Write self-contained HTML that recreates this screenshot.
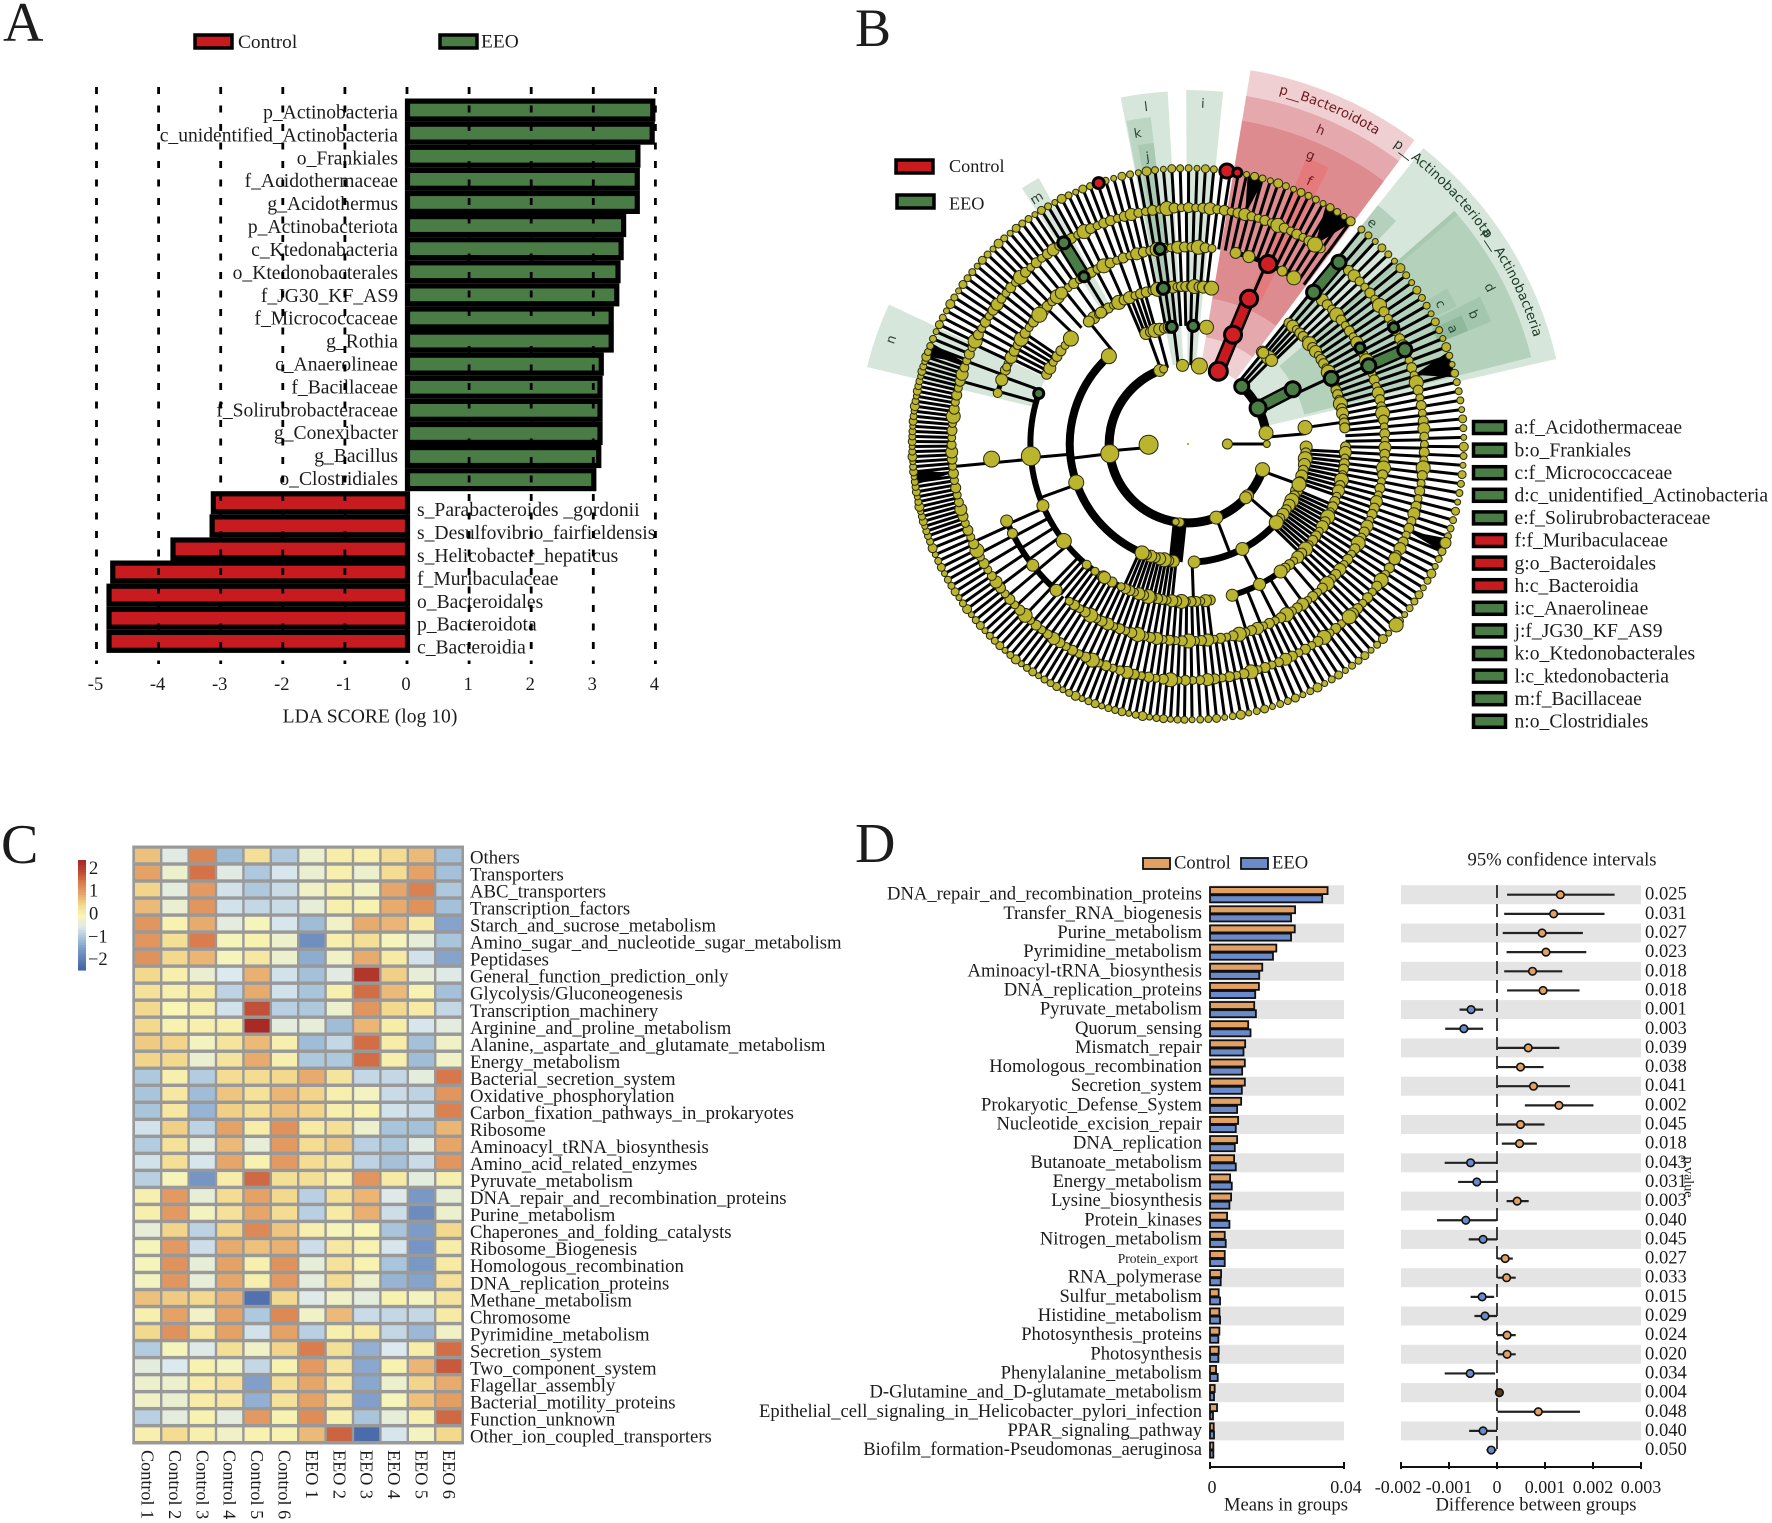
<!DOCTYPE html>
<html lang="en">
<head>
<meta charset="utf-8">
<title>Microbiome composite figure</title>
<style>
html,body{margin:0;padding:0;background:#fff;}
svg{display:block;}
text{font-family:"Liberation Serif",serif;fill:#1c1c1c;}
</style>
</head>
<body>
<svg id="figure" xmlns="http://www.w3.org/2000/svg" width="1772" height="1523" viewBox="0 0 1772 1523">
  <rect width="1772" height="1523" fill="#fff"/>
  <text x="3" y="41" font-size="56">A</text>
  <text x="855" y="46" font-size="54">B</text>
  <text x="1" y="863" font-size="56">C</text>
  <text x="855" y="862" font-size="56">D</text>

  <g id="panelA">
    <g>
      <rect x="195" y="35" width="37" height="13" fill="#c71b1f" stroke="#000" stroke-width="3.5"/>
      <text x="238" y="42.5" font-size="19.4" dominant-baseline="central">Control</text>
      <rect x="440" y="35" width="37" height="13" fill="#4a7c45" stroke="#000" stroke-width="3.5"/>
      <text x="481" y="42" font-size="19.4" dominant-baseline="central">EEO</text>
    </g>
    <text x="370" y="717" font-size="19.6" text-anchor="middle" dominant-baseline="central">LDA SCORE (log 10)</text>
  </g>

  <g id="panelB">
    <g>
      <rect x="896" y="160" width="37" height="13" fill="#c71b1f" stroke="#000" stroke-width="3.5"/>
      <text x="949" y="166" font-size="18.2" dominant-baseline="central">Control</text>
      <rect x="897" y="195" width="37" height="13" fill="#4a7c45" stroke="#000" stroke-width="3.5"/>
      <text x="949" y="203.5" font-size="18.2" dominant-baseline="central">EEO</text>
    </g>
  </g>

  <g id="panelC"></g>
  <g id="panelD">
    <g>
      <rect x="1143" y="858" width="27" height="11" fill="#e2a063" stroke="#111" stroke-width="1.8"/>
      <text x="1174" y="863" font-size="18.6" dominant-baseline="central">Control</text>
      <rect x="1241" y="858" width="27" height="11" fill="#6b8ac9" stroke="#111" stroke-width="1.8"/>
      <text x="1272" y="863" font-size="18.6" dominant-baseline="central">EEO</text>
    </g>
    <text x="1562" y="860" font-size="18.6" text-anchor="middle" dominant-baseline="central">95% confidence intervals</text>
    <text x="1286" y="1505" font-size="18.6" text-anchor="middle" dominant-baseline="central">Means in groups</text>
    <text x="1536" y="1505" font-size="18.6" text-anchor="middle" dominant-baseline="central">Difference between groups</text>
    <text transform="translate(1688,1177) rotate(90)" font-size="14" text-anchor="middle" dominant-baseline="central">p value</text>
  </g>
</svg>

<script>
/* ---------- Panel A data ---------- */
const ldaCategories = ["p_Actinobacteria","c_unidentified_Actinobacteria","o_Frankiales","f_Acidothermaceae","g_Acidothermus","p_Actinobacteriota","c_Ktedonabacteria","o_Ktedonobacterales","f_JG30_KF_AS9","f_Micrococcaceae","g_Rothia","c_Anaerolineae","f_Bacillaceae","f_Solirubrobacteraceae","g_Conexibacter","g_Bacillus","o_Clostridiales","s_Parabacteroides _gordonii","s_Desulfovibrio_fairfieldensis","s_Helicobacter_hepaticus","f_Muribaculaceae","o_Bacteroidales","p_Bacteroidota","c_Bacteroidia"];
const ldaValues = [4.0,3.99,3.76,3.75,3.75,3.53,3.49,3.44,3.42,3.33,3.33,3.17,3.15,3.15,3.15,3.13,3.05,-3.16,-3.18,-3.81,-4.78,-4.84,-4.84,-4.84];
const ldaTicks = [-5,-4,-3,-2,-1,0,1,2,3,4];

/* ---------- Panel B data (angles clockwise from north, degrees) ---------- */
const cladeWedges = [
  ["clade-bacteroidota-outer",353,379,9.5,36.7,"#f0cfd2"],
  ["clade-h-band",328,353,9.5,36.7,"#e5a9ad"],
  ["clade-g-band",147,328,9.5,36.7,"#de8b8f"],
  ["clade-h-inner",108,147,9.5,36.7,"#e5a9ad"],
  ["clade-bacteroidota-inner",80,108,9.5,36.7,"#f0cfd2"],
  ["clade-f",160,310,22.5,27,"#e57a7c"],
  ["clade-actinobacteriota",80,378,38.5,77,"#d6e6db"],
  ["clade-actinobacteria-class",120,354,49.5,75.8,"#b4d1bb"],
  ["clade-actinobacteria-edge",150,354,48.8,49.6,"#a6c9b0"],
  ["clade-e",150,305,38.5,43,"#b5d0bc"],
  ["clade-b",270,327,63.2,68,"#a3c6ae"],
  ["clade-c",270,302,59,62.8,"#a7c8b1"],
  ["clade-a",270,302,64.8,68,"#8fb99c"],
  ["clade-i",80,354,-0.3,5.7,"#d6e6db"],
  ["clade-l",80,353,-11,-3.3,"#d6e6db"],
  ["clade-k",118,329,-10.8,-6.5,"#bdd6c4"],
  ["clade-j",157,303,-9.5,-6.5,"#a9c9b2"],
  ["clade-m",160,305,-33,-29.3,"#d6e6db"],
  ["clade-n",157,330,-76.5,-65,"#d6e6db"]
];
const cladeLetters = [["a",288,66.5],["b",313,65.6],["c",288,61],["d",339,62.6],["e",287,39.8],["f",289,24.8],["g",313,23],["h",340,22.9],["i",340,2.5],["j",289,-8],["k",314,-9.2],["l",339,-7.1],["m",288,-31.6],["n",314,-70.6]];
const cladeArcLabels = [["p__Bacteroidota",14.5,31.5,"#6b1a20"],["p__Actinobacteriota",34.5,54,"#1d3a26"],["p__Actinobacteria",54.2,72.5,"#1d3a26"]];
/* level, start angle, end angle, branch count */
const branchSectors = [
  [6,38,78,21],[6,78,107,15],[6,107,180,43],[6,180,250,48],[6,250,290,38],[6,290,340,31],[6,340,368,16],[6,368,397,17],
  [5,38,80,22],[5,80,110,15],[5,110,180,39],[5,180,190,6],[5,190,222,18],[5,222,247,8],[5,263,266,1],[5,284,287,1],[5,289,292,1],[5,294,312,9],[5,312,340,12],[5,340,368,15],[5,368,397,15],
  [4,38,80,20],[4,80,110,15],[4,110,137,14],[4,137,165,6],[4,172,225,28],[4,228,248,5],[4,263,266,1],[4,285,286,1],[4,289,291,1],[4,295,305,6],[4,312,345,9],[4,345,368,10],[4,383,384,1],
  [3,38,47,5],[3,64,66,1],[3,81,83,1],[3,92,110,10],[3,112,135,14],[3,152,154,1],[3,177,179,1],[3,185,205,12],[3,249,251,1],[3,264,266,1],[3,319,323,1],[3,336,345,5],[3,348,365,7],
  [2,38,46,3],[2,84,86,1],[2,109,111,1],[2,130,132,1],[2,158,160,1],[2,184,186,1],[2,262,264,1],[2,339,341,1],[2,344,346,1],[2,352,354,1],[2,361,363,1],
  [1,89,91,1],[1,264,266,1]
];
/* level, start angle, end angle, node count: chains of taxon nodes along a ring */
const nodeChains = [
  [3,90,110,7],[3,112,133,8],[3,186,204,8],[3,38,46,4],[3,338,352,6],
  [4,39,85,26],[4,90,143,26],[4,171,206,20],[4,207,218,3],[4,295,310,6],[4,320,350,14],[4,352,368,10],
  [5,38,110,36],[5,110,218,58],[5,291,352,30],[5,352,368,8],
  [6,38,110,38],[6,110,262,85],[6,262,340,45],[6,340,368,16],[6,368,395,16]
];
const leafSizes7 = [3.5,3.5,3,4,3.5,3,4.5,3.5,3,4];
const leafSizes6 = [5,4,5,6,4.5,4,5,4,7,5,4];
const leafSizes5 = [5,4,6,5,4.5,7,5,4];
const leafSizes4 = [5,6,4,5,5,4,7];
const leafSizes3 = [6,5,7,6,5];
/* level, from angle, to angle, width */
const thickArcs = [[2,43,82,9],[2,109,339,9],[3,133,177,7],[3,192,318,8],[4,185,290,6],[4,300,312,5],[4,144,164,6],[5,221,247,6],[5,285,291,5],[5,14,32,5]];
/* level (inner), inner-end angle, from-angle, to-angle */
const branchFans = [[6,32.5,30,36.5],[6,73,70.5,76],[6,14,12.5,16],[6,290,288.5,291.5],[6,263,261.5,264.5],[6,111.6,110,113]];
/* level, angle, fill */
const thickBranches = [[2,22.5,"#c71b1f"],[3,22.6,"#c71b1f"],[2,62.6,"#4a7c45"],[5,66.5,"#4a7c45"],[5,39.7,"#4a7c45"],[5,328.2,"#4a7c45"],[2,186,"#000"]];
/* level, angle, radius */
const redNodes = [[2,22.6,9],[3,22.4,8.5],[4,22.8,8.5],[5,24,8.5],[7,8.1,7],[7,10.3,4.5],[7,341.1,5.5]];
const greenNodes = [[2,43,7],[2,62.8,8],[3,62.4,7.5],[4,65.4,7],[5,66.6,7],[6,66.5,7],[5,60.8,5],[6,60.5,5],[5,39.6,7],[6,39.7,7],[3,352.1,5.5],[3,2.5,5.5],[4,351,6],[5,351.8,5.5],[5,328.1,5],[6,328.3,6],[4,288.7,5]];
/* level, angle, radius */
const yellowHubNodes = [[1,269,9.5],[1,90,5],[2,263,9],[2,82,7],[2,90,3.5],[2,109,7],[2,131,6],[2,133,6],[2,159,6.5],[2,186,4.5],[2,189,3.5],[2,339,6],[2,342,4],[2,356,6],[2,8.3,8],[3,82,7],[3,110,7],[3,152.6,6.5],[3,177,6],[3,251,7.5],[3,318,7.5],[3,39.5,5.5],[3,9,7],[4,265.6,9.5],[4,247,6],[4,232,7.5],[4,220,4.5],[4,212,6],[4,163.7,6],[4,153,6],[4,144,6.5],[4,312,7.5],[4,321,5.5],[4,326.5,5.5],[4,8.6,7],[5,265.6,8],[5,247,6],[5,243,5],[5,232,6],[5,222,6],[5,285,4.5],[5,289,6],[5,293,4],[5,311,7.5],[5,320,6],[5,32.5,7],[5,28.6,5],[5,14,5.5],[5,18,6],[6,32.5,7.5],[6,137,7],[6,119,6],[7,131,7],[7,111,5.5]];

const legendEntries = [["a:f_Acidothermaceae","#4a7c45"],["b:o_Frankiales","#4a7c45"],["c:f_Micrococcaceae","#4a7c45"],["d:c_unidentified_Actinobacteria","#4a7c45"],["e:f_Solirubrobacteraceae","#4a7c45"],["f:f_Muribaculaceae","#c71b1f"],["g:o_Bacteroidales","#c71b1f"],["h:c_Bacteroidia","#c71b1f"],["i:c_Anaerolineae","#4a7c45"],["j:f_JG30_KF_AS9","#4a7c45"],["k:o_Ktedonobacterales","#4a7c45"],["l:c_ktedonobacteria","#4a7c45"],["m:f_Bacillaceae","#4a7c45"],["n:o_Clostridiales","#4a7c45"]];

/* ---------- Panel C data ---------- */
const heatSamples = ["Control 1","Control 2","Control 3","Control 4","Control 5","Control 6","EEO 1","EEO 2","EEO 3","EEO 4","EEO 5","EEO 6"];
const heatRows = ["Others","Transporters","ABC_transporters","Transcription_factors","Starch_and_sucrose_metabolism","Amino_sugar_and_nucleotide_sugar_metabolism","Peptidases","General_function_prediction_only","Glycolysis/Gluconeogenesis","Transcription_machinery","Arginine_and_proline_metabolism","Alanine,_aspartate_and_glutamate_metabolism","Energy_metabolism","Bacterial_secretion_system","Oxidative_phosphorylation","Carbon_fixation_pathways_in_prokaryotes","Ribosome","Aminoacyl_tRNA_biosynthesis","Amino_acid_related_enzymes","Pyruvate_metabolism","DNA_repair_and_recombination_proteins","Purine_metabolism","Chaperones_and_folding_catalysts","Ribosome_Biogenesis","Homologous_recombination","DNA_replication_proteins","Methane_metabolism","Chromosome","Pyrimidine_metabolism","Secretion_system","Two_component_system","Flagellar_assembly","Bacterial_motility_proteins","Function_unknown","Other_ion_coupled_transporters"];
const heatValues = [
[0.75,-0.4,1.4,-1.1,0.4,-0.95,-0.2,0.15,0.1,0.45,0.8,-1.05],
[1.05,-0.2,1.6,-0.4,-0.95,-0.55,-0.25,0.1,-0.2,0.45,1.05,-1.05],
[0.55,-0.35,1.15,-0.6,-0.95,-0.7,-0.15,0.1,-0.1,1.0,1.45,-0.95],
[0.8,-0.25,1.2,-0.6,-0.75,-0.7,-0.3,0.1,0.05,0.95,1.25,-1.05],
[1.2,0.05,0.95,-0.35,-0.05,-0.55,-1.1,-0.15,0.95,0.85,0.2,-1.4],
[1.2,0.4,1.5,-0.05,0.05,-0.2,-1.7,0.1,0.4,-0.05,-0.3,-1.0],
[1.25,0.5,0.85,-0.05,0.25,-0.2,-1.3,-0.15,0.95,0.2,-0.6,-1.4],
[0.5,0.1,-0.25,-0.5,0.9,-0.6,-1.05,-0.4,2.3,0.6,-0.3,-0.45],
[0.35,0.1,0.2,-0.8,0.95,-0.6,-1.0,0.1,1.65,0.8,0.05,-1.05],
[0.5,0.0,0.1,-0.6,1.95,-0.85,-0.95,-0.2,1.2,0.5,0.2,-0.75],
[0.5,0.05,0.1,0.1,2.5,-0.35,-0.3,-1.1,0.85,0.15,-0.55,-0.35],
[0.65,0.55,-0.1,0.3,0.8,0.1,-1.1,-0.75,1.65,0.15,-1.05,-0.15],
[0.55,0.5,-0.25,0.3,0.95,0.1,-0.95,-0.95,1.65,0.1,-1.1,-0.15],
[-0.95,0.1,-0.9,0.45,0.45,0.5,0.95,0.3,-0.75,-0.75,-0.35,1.55],
[-1.0,0.25,-1.1,0.7,0.35,0.85,0.55,0.1,-0.1,-0.7,-0.8,1.2],
[-1.0,0.25,-1.2,0.6,0.4,0.75,0.55,0.1,0.05,-0.6,-0.7,1.45],
[-0.6,0.6,-0.8,1.05,0.15,1.25,0.2,0.4,-0.2,-1.0,-1.05,0.85],
[-0.9,0.35,-0.35,0.8,-0.3,1.15,0.45,0.65,-0.85,-0.95,-0.4,1.0],
[-0.6,0.4,-0.55,1.0,0.05,1.15,0.45,0.3,-0.8,-1.05,-0.7,1.2],
[-0.85,-0.05,-1.6,0.15,1.7,0.4,0.4,0.1,1.2,0.2,-0.35,0.1],
[0.1,1.15,-0.3,0.45,1.05,0.5,-0.85,0.4,0.85,-0.45,-1.55,-0.3],
[0.1,1.15,-0.1,0.35,1.0,0.45,-0.85,0.2,0.9,-0.65,-1.75,-0.2],
[-0.3,0.55,-0.8,0.55,1.35,0.7,0.1,-0.05,0.0,-1.0,-1.5,0.5],
[-0.05,1.15,-0.65,0.95,0.75,0.9,-0.65,0.25,0.05,-0.55,-1.6,0.15],
[-0.05,1.25,-0.3,1.05,0.1,1.25,-0.3,0.35,0.05,-1.0,-1.55,0.2],
[-0.1,1.2,-0.3,1.0,0.1,1.15,-0.35,0.45,-0.2,-1.2,-1.4,0.35],
[0.75,0.65,0.5,0.9,-2.2,0.5,-0.45,-0.15,-0.35,0.05,-0.1,0.3],
[0.1,1.05,-0.15,1.05,-0.95,1.35,-0.15,0.8,-0.7,-0.75,-0.75,0.2],
[0.5,1.25,0.25,1.05,-0.6,1.05,-0.85,0.1,0.2,-0.75,-1.15,-0.15],
[-0.9,-0.05,-0.45,0.4,-0.15,0.55,1.5,0.4,-1.25,-0.5,0.15,1.65],
[-0.35,-0.5,0.05,-0.1,-0.75,0.05,1.15,0.3,-1.35,0.05,0.85,1.85],
[-0.2,-0.2,0.15,0.35,-1.45,0.4,1.0,0.25,-1.35,-0.2,0.55,0.95],
[-0.15,-0.25,0.15,0.25,-1.25,0.35,1.05,0.25,-1.45,-0.05,0.75,1.1],
[-0.85,-0.35,0.05,-0.35,1.15,0.05,1.3,0.1,-1.0,-0.3,0.1,1.7],
[0.1,0.45,0.1,-0.15,0.05,0.05,0.8,1.75,-2.3,-0.55,-0.1,0.5]
];
const heatColorStops = [[-2.4,"#4566a8"],[-1.5,"#7c9bc7"],[-1,"#a9c5dc"],[-0.5,"#dce9ee"],[0,"#f8f5b5"],[0.5,"#f3d98e"],[1,"#e6a66a"],[1.5,"#d97d4e"],[2,"#bf4a34"],[2.5,"#a92a25"]];
const heatLegendTicks = [2,1,0,-1,-2];

/* ---------- Panel D data ---------- */
const pathways = ["DNA_repair_and_recombination_proteins","Transfer_RNA_biogenesis","Purine_metabolism","Pyrimidine_metabolism","Aminoacyl-tRNA_biosynthesis","DNA_replication_proteins","Pyruvate_metabolism","Quorum_sensing","Mismatch_repair","Homologous_recombination","Secretion_system","Prokaryotic_Defense_System","Nucleotide_excision_repair","DNA_replication","Butanoate_metabolism","Energy_metabolism","Lysine_biosynthesis","Protein_kinases","Nitrogen_metabolism","Protein_export","RNA_polymerase","Sulfur_metabolism","Histidine_metabolism","Photosynthesis_proteins","Photosynthesis","Phenylalanine_metabolism","D-Glutamine_and_D-glutamate_metabolism","Epithelial_cell_signaling_in_Helicobacter_pylori_infection","PPAR_signaling_pathway","Biofilm_formation-Pseudomonas_aeruginosa"];
const meanControl = [.0351,.0254,.0253,.0198,.0156,.0146,.0132,.0114,.0105,.0104,.0104,.0093,.0084,.0081,.0072,.0060,.0063,.0051,.0044,.0044,.0033,.0026,.0028,.0028,.0026,.0018,.0014,.0021,.0011,.0010];
const meanEEO = [.0335,.0242,.0242,.0188,.0147,.0135,.0137,.0121,.0100,.0096,.0095,.0081,.0077,.0074,.0077,.0065,.0058,.0058,.0047,.0044,.0032,.0030,.0030,.0025,.0025,.0023,.0012,.0009,.0012,.0010];
const diffMean = [.00132,.00118,.00094,.00102,.00074,.00096,-.00054,-.00069,.00065,.00049,.00076,.00129,.00049,.00047,-.00055,-.00042,.00042,-.00065,-.00029,.00017,.0002,-.00031,-.00025,.00021,.00021,-.00056,.00005,.00086,-.00029,-.00012];
const diffLow = [.00021,.00015,.00012,.0002,.00015,.00021,-.00078,-.00108,.00002,.00002,.00002,.00058,.00002,.0001,-.00109,-.00081,.0002,-.00125,-.00059,.00001,.00001,-.00055,-.00047,0,.00001,-.00109,0,.00001,-.00058,-.00022];
const diffHigh = [.00245,.00224,.00179,.00186,.00136,.00172,-.00029,-.00029,.0013,.00097,.00152,.00201,.00099,.00083,-.00001,-.00002,.00066,-.00001,0,.00033,.00039,-.00006,0,.00039,.00039,-.00004,.00011,.00173,0,-.00001];
const pValueLabels = ["0.025","0.031","0.027","0.023","0.018","0.018","0.001","0.003","0.039","0.038","0.041","0.002","0.045","0.018","0.043","0.031","0.003","0.040","0.045","0.027","0.033","0.015","0.029","0.024","0.020","0.034","0.004","0.048","0.040","0.050"];
const meanAxisTicks = ["0","0.04"];
const meanAxisTickValues = [0,0.04];
const diffAxisTicks = ["-0.002","-0.001","0","0.001","0.002","0.003"];
const diffAxisTickValues = [-0.002,-0.001,0,0.001,0.002,0.003];

/* ---------- helpers ---------- */
const NS = "http://www.w3.org/2000/svg";
function mk(tag, attrs, parent, txt) {
  const e = document.createElementNS(NS, tag);
  for (const k in attrs) e.setAttribute(k, attrs[k]);
  if (txt !== undefined) e.textContent = txt;
  parent.appendChild(e);
  return e;
}
const panelA = document.getElementById("panelA");
const panelB = document.getElementById("panelB");
const panelC = document.getElementById("panelC");
const panelD = document.getElementById("panelD");

/* ---------- Panel A ---------- */
(function () {
  const ldaX = v => 407 + v * 62.1;
  const rowTop = i => 98.5 + i * 23.1;
  const sw = 5.2;
  ldaValues.forEach((v, i) => {
    const outer = ldaX(v);
    const x0 = v >= 0 ? 407.5 : outer + sw / 2;
    const x1 = v >= 0 ? outer - sw / 2 : 407.5;
    const el = mk("rect", {x: x0, y: rowTop(i) + sw / 2, width: x1 - x0, height: 23.1 - sw, fill: v >= 0 ? "#4a7c45" : "#c71b1f", stroke: "#000", "stroke-width": sw}, panelA);
    
    
  });
  ldaCategories.forEach((c, i) => {
    const v = ldaValues[i];
    const negIdx = i - 17;
    const attrs = v >= 0
      ? {x: 398, y: 113 + 22.91 * i, "text-anchor": "end"}
      : {x: 417, y: 510.7 + 22.9 * negIdx, "text-anchor": "start"};
    attrs["font-size"] = 19.6;
    attrs["dominant-baseline"] = "central";
    const el = mk("text", attrs, panelA, c);
    
    
  });
  ldaTicks.forEach(t => {
    const line = mk("line", {x1: ldaX(t), x2: ldaX(t), y1: 87, y2: 664, stroke: "#000", "stroke-width": 2.8, "stroke-dasharray": "7 11.5"}, panelA);
    
    
    const lab = mk("text", {x: ldaX(t) - 1, y: 685, "font-size": 18.5, "text-anchor": "middle", "dominant-baseline": "central"}, panelA, String(t));
    
    
  });
})();

/* ---------- Panel B ---------- */
(function () {
  const cx = 1188, cy = 444, step = 39.4;
  const polar = (r, a) => {
    const t = a * Math.PI / 180;
    return [cx + r * Math.sin(t), cy - r * Math.cos(t)];
  };
  const ringR = l => l * step;
  const arcPath = (r, a0, a1) => {
    const p0 = polar(r, a0), p1 = polar(r, a1);
    return `M${p0[0]} ${p0[1]}A${r} ${r} 0 ${a1 - a0 > 180 ? 1 : 0} 1 ${p1[0]} ${p1[1]}`;
  };
  const wedgePath = (r0, r1, a0, a1) => {
    const p0 = polar(r1, a0), p1 = polar(r1, a1), p2 = polar(r0, a1), p3 = polar(r0, a0);
    return `M${p0[0]} ${p0[1]}A${r1} ${r1} 0 0 1 ${p1[0]} ${p1[1]}L${p2[0]} ${p2[1]}A${r0} ${r0} 0 0 0 ${p3[0]} ${p3[1]}Z`;
  };

  const wedges = mk("g", {}, panelB);
  
  
  cladeWedges.forEach(w => {
    const el = mk("path", {d: wedgePath(w[1], w[2], w[3], w[4]), fill: w[5]}, wedges);
    
    
  });

  const branches = mk("g", {stroke: "#000", "stroke-width": 3}, panelB);
  
  
  const tips = [];
  branchSectors.forEach(s => {
    const [lvl, a0, a1, n] = s;
    for (let i = 0; i < n; i++) {
      const a = a0 + (a1 - a0) * (i + 0.5) / n;
      const p = polar(ringR(lvl), a), q = polar(ringR(lvl + 1), a);
      const el = mk("line", {x1: p[0], y1: p[1], x2: q[0], y2: q[1]}, branches);
      
      
      if (lvl === 6) tips.push([7, a, leafSizes7[i % leafSizes7.length]]);
    }
  });
  const chainTables = {6: leafSizes6, 5: leafSizes5, 4: leafSizes4, 3: leafSizes3};
  nodeChains.forEach(c => {
    const [lvl, a0, a1, n] = c;
    const table = chainTables[lvl];
    for (let i = 0; i < n; i++) {
      tips.push([lvl, a0 + (a1 - a0) * (i + 0.5) / n, table[i % table.length]]);
    }
  });

  const arcs = mk("g", {fill: "none", stroke: "#000"}, panelB);
  
  
  thickArcs.forEach(a => {
    const el = mk("path", {d: arcPath(ringR(a[0]), a[1], a[2]), "stroke-width": a[3]}, arcs);
    
    
  });

  branchFans.forEach(f => {
    const p = polar(ringR(f[0]), f[1]), q = polar(ringR(f[0] + 1), f[2]), r = polar(ringR(f[0] + 1), f[3]);
    const el = mk("polygon", {points: `${p[0]},${p[1]} ${q[0]},${q[1]} ${r[0]},${r[1]}`, fill: "#000"}, panelB);
    
    
  });

  thickBranches.forEach(b => {
    const p = polar(ringR(b[0]), b[1]), q = polar(ringR(b[0] + 1), b[1]);
    const o = mk("line", {x1: p[0], y1: p[1], x2: q[0], y2: q[1], stroke: "#000", "stroke-width": 14}, panelB);
    
    
    const i = mk("line", {x1: p[0], y1: p[1], x2: q[0], y2: q[1], stroke: b[2], "stroke-width": 9}, panelB);
    
    
  });

  const nodes = mk("g", {}, panelB);
  
  
  tips.concat(yellowHubNodes).forEach(t => {
    const p = polar(ringR(t[0]), t[1]);
    const el = mk("circle", {cx: p[0], cy: p[1], r: t[2], fill: "#bab42e", stroke: "#2a2a10", "stroke-width": 1}, nodes);
    
    
  });
  greenNodes.forEach(t => {
    const p = polar(ringR(t[0]), t[1]);
    const el = mk("circle", {cx: p[0], cy: p[1], r: t[2], fill: "#4a7c45", stroke: "#000", "stroke-width": 3}, nodes);
    
    
  });
  redNodes.forEach(t => {
    const p = polar(ringR(t[0]), t[1]);
    const el = mk("circle", {cx: p[0], cy: p[1], r: t[2], fill: "#d01f24", stroke: "#000", "stroke-width": 3}, nodes);
    
    
  });
  const centre = mk("circle", {cx: cx, cy: cy, r: 1.2, fill: "#bab42e"}, nodes);
  
  

  cladeLetters.forEach(l => {
    const p = polar(l[1], l[2]);
    const el = mk("text", {x: p[0], y: p[1], transform: `rotate(${l[2]} ${p[0]} ${p[1]})`, "font-size": 13, "text-anchor": "middle", "dominant-baseline": "central", style: 'font-family:"DejaVu Sans",sans-serif;fill:' + (l[2] > 9 && l[2] < 37 ? "#6b1a20" : "#2c4434")}, panelB, l[0]);
    
    
  });
  const defs = mk("defs", {}, panelB);
  cladeArcLabels.forEach((l, i) => {
    const id = "cladeArc" + i;
    const p = mk("path", {id: id, d: arcPath(362, l[1], l[2] + 3), fill: "none"}, defs);
    
    
    const t = mk("text", {"font-size": 13.3, style: 'font-family:"DejaVu Sans",sans-serif;fill:' + l[3]}, panelB);
    
    
    const tp = mk("textPath", {href: "#" + id}, t, l[0]);
    
    
  });

  legendEntries.forEach((l, i) => {
    const y = 430 + 22.6 * i - 2.5;
    const box = mk("rect", {x: 1473.5, y: y - 6, width: 32, height: 12, fill: l[1], stroke: "#000", "stroke-width": 3.5}, panelB);
    
    
    const t = mk("text", {x: 1514.5, y: 428.2 + 22.6 * i, "font-size": 19.6, "dominant-baseline": "central"}, panelB, l[0]);
    
    
  });
})();

/* ---------- Panel C ---------- */
(function () {
  const hex = h => [1, 3, 5].map(i => parseInt(h.substr(i, 2), 16));
  const colorOf = v => {
    const s = heatColorStops;
    if (v <= s[0][0]) return s[0][1];
    for (let i = 1; i < s.length; i++) {
      if (v <= s[i][0]) {
        const t = (v - s[i - 1][0]) / (s[i][0] - s[i - 1][0]);
        const a = hex(s[i - 1][1]), b = hex(s[i][1]);
        return "rgb(" + a.map((c, k) => Math.round(c + (b[k] - c) * t)).join(",") + ")";
      }
    }
    return s[s.length - 1][1];
  };
  const colX = j => 135 + j * 27.4;
  const rowY = i => 848.7 + i * 17.02;
  const grid = mk("rect", {x: 132.3, y: 845.5, width: 331.7, height: 599, fill: "#999"}, panelC);
  
  
  heatValues.forEach((row, i) => {
    row.forEach((v, j) => {
      const c = mk("rect", {x: colX(j), y: rowY(i), width: 25, height: 13.6, fill: colorOf(v)}, panelC);
      
      
    });
    const t = mk("text", {x: 470, y: 858 + 17.03 * i, "font-size": 18.7, "dominant-baseline": "central"}, panelC, heatRows[i]);
    
    
  });
  heatSamples.forEach((s, j) => {
    const x = colX(j) + 12.5;
    const t = mk("text", {transform: `translate(${x},1450) rotate(90)`, "font-size": 18.2, "dominant-baseline": "central"}, panelC, s);
    
    
  });
  const top = 860, h = 110, bands = 44;
  for (let k = 0; k < bands; k++) {
    const v = 2.5 - 4.9 * k / (bands - 1);
    const r = mk("rect", {x: 78, y: top + k * h / bands, width: 8, height: h / bands + 0.6, fill: colorOf(v)}, panelC);
    
    
  }
  heatLegendTicks.forEach(t => {
    const lab = mk("text", {x: t < 0 ? 88 : 89, y: 914.5 - t * 22.8, "font-size": 18.5, "dominant-baseline": "central"}, panelC, t < 0 ? "\u2212" + (-t) : String(t));
    
    
  });
})();

/* ---------- Panel D ---------- */
(function () {
  const meanX = v => 1210 + v * 3350;
  const diffX = v => 1497 + v * 48000;
  const rowCy = i => 894.7 + i * 19.15;
  pathways.forEach((p, i) => {
    if (i % 2 === 0) {
      const a = mk("rect", {x: 1210, y: rowCy(i) - 9.5, width: 134, height: 19, fill: "#e4e4e4"}, panelD);
      
      
      const b = mk("rect", {x: 1401, y: rowCy(i) - 9.5, width: 240, height: 19, fill: "#e4e4e4"}, panelD);
      
      
    }
  });
  const zero = mk("line", {x1: diffX(0), x2: diffX(0), y1: 885, y2: 1453, stroke: "#111", "stroke-width": 1.6, "stroke-dasharray": "13 6"}, panelD);
  
  
  pathways.forEach((p, i) => {
    const y = rowCy(i);
    const small = p === "Protein_export";
    const lab = mk("text", {x: small ? 1198 : 1202, y: y - (small ? 0 : 0.5), "font-size": small ? 13.5 : 18.6, "text-anchor": "end", "dominant-baseline": "central"}, panelD, p);
    
    
    const c = mk("rect", {x: meanX(0), y: y - 7.6, width: meanX(meanControl[i]) - meanX(0), height: 7, fill: "#e2a063", stroke: "#111", "stroke-width": 1.8}, panelD);
    
    
    const e = mk("rect", {x: meanX(0), y: y + 0.6, width: meanX(meanEEO[i]) - meanX(0), height: 7, fill: "#6b8ac9", stroke: "#111", "stroke-width": 1.8}, panelD);
    
    
    const ci = mk("line", {x1: diffX(diffLow[i]), x2: diffX(diffHigh[i]), y1: y, y2: y, stroke: "#222", "stroke-width": 2.2}, panelD);
    
    
    const m = diffMean[i];
    const dot = mk("circle", {cx: diffX(m), cy: y, r: 3.8, fill: i === 26 ? "#5a3a1a" : (m >= 0 ? "#e2a063" : "#6b8ac9"), stroke: "#111", "stroke-width": 1.6}, panelD);
    
    
    const pv = mk("text", {x: 1645, y: y - 0.5, "font-size": 18.6, "dominant-baseline": "central"}, panelD, pValueLabels[i]);
    
    
  });
  const axis = (name, x0, x1) => {
    const el = mk("line", {x1: x0, x2: x1, y1: 1467, y2: 1467, stroke: "#111", "stroke-width": 2}, panelD);
    
    
  };
  axis('means-x-axis', meanX(0) - 1, meanX(0.04) + 1);
  axis('difference-x-axis', diffX(-0.002) - 1, diffX(0.003) + 1);
  meanAxisTickValues.forEach((v, i) => {
    const t = mk("line", {x1: meanX(v), x2: meanX(v), y1: 1462, y2: 1469, stroke: "#111", "stroke-width": 2}, panelD);
    
    
    const l = mk("text", {x: meanX(v) + 2, y: 1487, "font-size": 18, "text-anchor": "middle", "dominant-baseline": "central"}, panelD, meanAxisTicks[i]);
    
    
  });
  diffAxisTickValues.forEach((v, i) => {
    const t = mk("line", {x1: diffX(v), x2: diffX(v), y1: 1462, y2: 1469, stroke: "#111", "stroke-width": 2}, panelD);
    
    
    const l = mk("text", {x: diffX(v) + (i === 0 ? -3 : 0), y: 1487, "font-size": 18, "text-anchor": "middle", "dominant-baseline": "central"}, panelD, diffAxisTicks[i]);
    
    
  });
})();
</script>
</body>
</html>
